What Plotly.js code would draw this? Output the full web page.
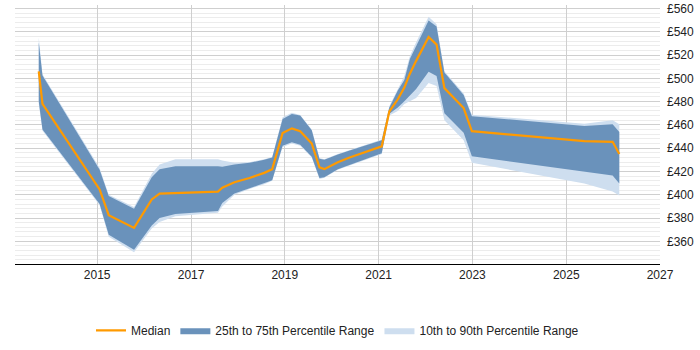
<!DOCTYPE html>
<html>
<head>
<meta charset="utf-8">
<script src="https://cdn.plot.ly/plotly-3.0.1.min.js"></script>
<style>
  html, body { margin: 0; padding: 0; background: #fff; }
  #chart { width: 700px; height: 350px; }
</style>
</head>
<body>
<div id="chart"></div>
<script>
// Daily rate percentiles over time (GBP)
const dates = [
  "2013-10-03", "2013-11-01", "2015-01-20", "2015-04-01", "2015-10-15",
  "2016-03-01", "2016-05-01", "2016-09-01", "2017-07-30", "2017-09-01",
  "2017-12-05", "2018-04-01", "2018-07-25", "2018-09-25", "2018-12-15",
  "2019-02-25", "2019-05-01", "2019-07-30", "2019-09-28", "2019-11-05",
  "2020-02-18", "2020-05-20", "2021-01-25", "2021-03-25", "2021-05-30",
  "2021-07-20", "2021-09-01", "2021-10-20", "2022-01-25", "2022-03-28",
  "2022-05-28", "2022-10-25", "2022-12-28", "2025-05-22", "2025-12-28",
  "2026-02-18"
];

const median = [
  506, 478, 404.5, 382.5, 371.5,
  396, 401, 401.5, 402.7, 406,
  410.8, 414.4, 418.8, 422, 453,
  457, 454.6, 444, 423.5, 422,
  428, 432, 441.6, 471.5, 482,
  492, 504, 515, 535.5, 529,
  491.6, 474.5, 454.6, 446, 445.5,
  435
];

const p25 = [
  480, 456, 392, 365.7, 352.8,
  373.5, 380, 383.5, 386, 393,
  401, 405.4, 409.5, 412.4, 442,
  445, 443, 432.6, 414.4, 415,
  422, 425.6, 435.7, 469.5, 475,
  480.4, 485, 490.8, 505.6, 502,
  470, 453.2, 433, 420.1, 416.5,
  409.7
];

const p75 = [
  531, 502.5, 421.5, 399, 388,
  415, 422, 424.5, 424.5, 424,
  426, 427.4, 430, 432, 465,
  469.3, 468, 455.3, 431, 430,
  434.5, 438, 446.8, 475, 489.5,
  498.6, 516.7, 528, 549.6, 544.5,
  505, 485.6, 467.5, 459, 460.5,
  453.8
];

const p10 = [
  478, 455, 391, 364, 350.5,
  371, 376.5, 381.5, 384.5, 390,
  400, 405, 409, 412, 441,
  444, 442, 432, 413.5, 414.5,
  421.5, 425, 435, 468, 472,
  477.9, 480, 483, 496, 493.4,
  464, 446.8, 427.4, 409.7, 402.7,
  399.4
];

const p90 = [
  535, 503.5, 423, 400, 389.5,
  418, 426, 430.5, 430.5, 429.5,
  427.5, 428, 430.5, 432.5, 466.5,
  470.5, 468.5, 456, 431.5, 430.5,
  435, 438.5, 447.5, 476, 491,
  502, 519, 531, 553, 546.5,
  506, 487, 468.8, 461, 464,
  460.5
];

const yTicks = [360, 380, 400, 420, 440, 460, 480, 500, 520, 540, 560];
const yTickText = yTicks.map(v => "\u00a3" + v);

const lightBlue = "#cedeef";
const darkBlue = "#6a92bb";
const orange = "#ff9a00";

const traces = [
  // 10th-90th band
  { x: dates, y: p90, type: "scatter", mode: "lines", line: { width: 0 },
    hoverinfo: "skip", showlegend: false },
  { x: dates, y: p10, type: "scatter", mode: "lines", line: { width: 0 },
    fill: "tonexty", fillcolor: lightBlue, name: "10th to 90th Percentile Range",
    legendrank: 3 },
  // 25th-75th band
  { x: dates, y: p75, type: "scatter", mode: "lines", line: { width: 0 },
    hoverinfo: "skip", showlegend: false },
  { x: dates, y: p25, type: "scatter", mode: "lines", line: { width: 0 },
    fill: "tonexty", fillcolor: darkBlue, name: "25th to 75th Percentile Range",
    legendrank: 2 },
  // median
  { x: dates, y: median, type: "scatter", mode: "lines",
    line: { color: orange, width: 2.2 }, name: "Median", legendrank: 1 }
];

const layout = {
  width: 700, height: 350,
  margin: { l: 15, r: 40, t: 5, b: 58 },
  paper_bgcolor: "#fff", plot_bgcolor: "#fff",
  font: { family: "Liberation Sans, Arial, sans-serif", size: 12, color: "#222" },
  showlegend: true,
  legend: {
    orientation: "h", x: 0.5, xanchor: "center", y: -0.2, yanchor: "top",
    font: { size: 12, color: "#222" }, itemwidth: 30, traceorder: "normal"
  },
  xaxis: {
    type: "date",
    range: ["2013-04-01", "2027-01-01"],
    tick0: "2015-01-01", dtick: "M24", tickformat: "%Y",
    showgrid: true, gridcolor: "#cfcfcf", gridwidth: 1,
    showline: true, linecolor: "#000", linewidth: 1,
    ticks: "", zeroline: false, fixedrange: true
  },
  yaxis: {
    side: "right",
    range: [340.5, 563],
    tickmode: "array", tickvals: yTicks, ticktext: yTickText,
    ticklabelstandoff: 6,
    showgrid: true, gridcolor: "#cfcfcf", gridwidth: 1,
    minor: { dtick: 4, showgrid: true, gridcolor: "#ececec", gridwidth: 1 },
    showline: false, zeroline: false, ticks: "", fixedrange: true
  }
};

Plotly.newPlot("chart", traces, layout, { displayModeBar: false, staticPlot: true });
</script>
</body>
</html>
